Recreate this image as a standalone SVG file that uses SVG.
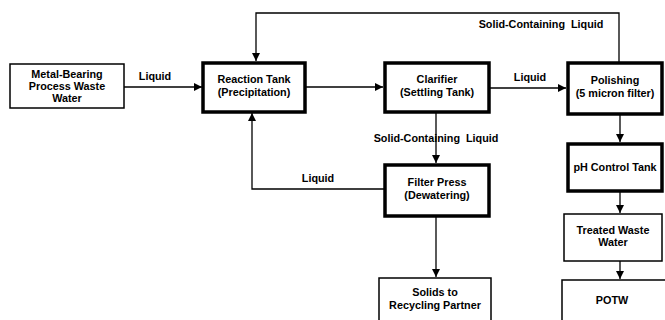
<svg xmlns="http://www.w3.org/2000/svg" width="665" height="320" viewBox="0 0 665 320">
<style>
text{font-family:"Liberation Sans",Arial,sans-serif;font-weight:bold;font-size:10.8px;fill:#000;text-anchor:middle}
.thin{fill:#fff;stroke:#000;stroke-width:1.5}
.thick{fill:#fff;stroke:#000;stroke-width:3.5}
.c{fill:none;stroke:#000;stroke-width:1.3}
</style>
<defs>
<marker id="a" viewBox="0 0 10 10" refX="10" refY="5" markerWidth="8" markerHeight="8" markerUnits="userSpaceOnUse" orient="auto"><path d="M0,0L10,5L0,10z" fill="#000"/></marker>
</defs>
<rect width="665" height="320" fill="#fff"/>
<g id="connectors">
<path class="c" d="M124,87H202" marker-end="url(#a)"/>
<path class="c" d="M305,87H383" marker-end="url(#a)"/>
<path class="c" d="M489,88H566" marker-end="url(#a)"/>
<path class="c" d="M619,62V13H256V61" marker-end="url(#a)"/>
<path class="c" d="M436,112V163" marker-end="url(#a)"/>
<path class="c" d="M384,189H252V113" marker-end="url(#a)"/>
<path class="c" d="M436,216V277" marker-end="url(#a)"/>
<path class="c" d="M620,115V142" marker-end="url(#a)"/>
<path class="c" d="M620,191V213" marker-end="url(#a)"/>
<path class="c" d="M620,261V279" marker-end="url(#a)"/>
<text x="155" y="80">Liquid</text>
<text x="530" y="81">Liquid</text>
<text x="541" y="28" xml:space="preserve">Solid-Containing  Liquid</text>
<text x="436" y="142" xml:space="preserve">Solid-Containing  Liquid</text>
<text x="318" y="182">Liquid</text>
</g>
<g id="metal"><rect class="thin" x="10" y="64" width="114" height="44"/><text x="67" y="78">Metal-Bearing</text><text x="67" y="90">Process Waste</text><text x="67" y="102">Water</text></g>
<g id="reaction"><rect class="thick" x="203" y="63" width="102" height="49"/><text x="254" y="83">Reaction Tank</text><text x="254" y="96">(Precipitation)</text></g>
<g id="clarifier"><rect class="thick" x="385" y="63" width="104" height="49"/><text x="437" y="83">Clarifier</text><text x="437" y="96">(Settling Tank)</text></g>
<g id="polishing"><rect class="thick" x="568" y="63" width="94" height="51"/><text x="615" y="84">Polishing</text><text x="615" y="97">(5 micron filter)</text></g>
<g id="filterpress"><rect class="thick" x="385" y="165" width="104" height="51"/><text x="437" y="186">Filter Press</text><text x="437" y="199">(Dewatering)</text></g>
<g id="solids"><rect class="thin" x="379" y="278" width="112" height="50"/><text x="435" y="296">Solids to</text><text x="435" y="309">Recycling Partner</text></g>
<g id="phcontrol"><rect class="thick" x="568" y="144" width="94" height="47"/><text x="615" y="171">pH Control Tank</text></g>
<g id="treated"><rect class="thin" x="564" y="214" width="98" height="47"/><text x="613" y="234">Treated Waste</text><text x="613" y="246">Water</text></g>
<g id="potw"><rect class="thin" x="562" y="280" width="110" height="50"/><text x="612" y="304">POTW</text></g>
</svg>
